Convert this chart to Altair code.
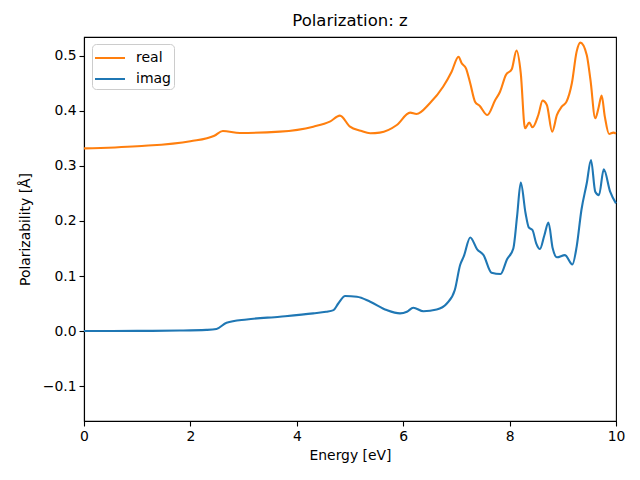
import altair as alt
import pandas as pd

real_x = [0, 1, 2, 2.45, 2.61, 2.93, 3.68, 4.31, 4.62, 4.81, 5.0, 5.2, 5.38, 5.56, 5.88,
          6.13, 6.25, 6.5, 6.75, 6.91, 7.04, 7.10, 7.18, 7.26, 7.35, 7.44, 7.58, 7.73, 7.82,
          7.93, 8.04, 8.13, 8.21, 8.29, 8.37, 8.43, 8.54, 8.62, 8.70, 8.80, 8.89, 8.98, 9.07,
          9.17, 9.26, 9.33, 9.45, 9.52, 9.61, 9.67, 9.73, 9.79, 9.87, 9.95, 10]
real_y = [0.332, 0.336, 0.345, 0.355, 0.3636, 0.360, 0.3624, 0.3715, 0.3806, 0.3915, 0.3715,
          0.364, 0.3594, 0.3606, 0.3745, 0.397, 0.3945, 0.414, 0.444, 0.4715, 0.4987, 0.4867,
          0.4776, 0.4503, 0.417, 0.409, 0.3927, 0.42, 0.435, 0.4655, 0.4758, 0.5097, 0.4685,
          0.3685, 0.3788, 0.3703, 0.3927, 0.4188, 0.411, 0.3624, 0.3927, 0.4079, 0.417, 0.4503,
          0.5079, 0.5242, 0.5018, 0.4564, 0.3867, 0.4049, 0.4279, 0.3897, 0.3582, 0.3606, 0.359]

imag_x = [0, 1, 1.8, 2.3, 2.49, 2.68, 3.06, 3.68, 4.31, 4.55, 4.69, 4.78, 4.91, 5.13, 5.38,
          5.69, 5.94, 6.07, 6.19, 6.38, 6.63, 6.82, 6.97, 7.07, 7.14, 7.26, 7.39, 7.51, 7.66,
          7.83, 7.95, 8.07, 8.14, 8.21, 8.30, 8.36, 8.43, 8.50, 8.57, 8.65, 8.73, 8.81, 8.89,
          9.04, 9.18, 9.26, 9.35, 9.45, 9.53, 9.61, 9.68, 9.77, 9.89, 10]
imag_y = [0.0, 0.0002, 0.0008, 0.002, 0.0036, 0.015, 0.021, 0.026, 0.032, 0.035, 0.038, 0.050,
          0.0636, 0.0624, 0.0533, 0.038, 0.032, 0.035, 0.0424, 0.036, 0.039, 0.050, 0.0745,
          0.12, 0.136, 0.170, 0.1485, 0.138, 0.106, 0.1036, 0.130, 0.150, 0.208, 0.2697, 0.214,
          0.1885, 0.1836, 0.1594, 0.149, 0.1727, 0.197, 0.1503, 0.134, 0.138, 0.121, 0.153,
          0.22, 0.2685, 0.311, 0.2533, 0.247, 0.294, 0.2533, 0.232]

series_names = ["real", "imag"]
series_colors = ["#ff7f0e", "#1f77b4"]
x_ticks = [0, 2, 4, 6, 8, 10]
y_ticks = [-0.1, 0.0, 0.1, 0.2, 0.3, 0.4, 0.5]

df = pd.concat([
    pd.DataFrame({"energy": real_x, "value": real_y, "series": "real", "order": 0}),
    pd.DataFrame({"energy": imag_x, "value": imag_y, "series": "imag", "order": 1}),
])

FONT = "DejaVu Sans"

chart = alt.Chart(df).mark_line(strokeWidth=2.1, interpolate="monotone").encode(
    x=alt.X("energy:Q", title="Energy [eV]",
            scale=alt.Scale(domain=[0, 10], nice=False, zero=False),
            axis=alt.Axis(values=x_ticks, format="d", labelFlush=False)),
    y=alt.Y("value:Q", title="Polarizability [Å]",
            scale=alt.Scale(domain=[-0.1636, 0.5345], nice=False, zero=False),
            axis=alt.Axis(values=y_ticks, format=".1f", labelFlush=False)),
    color=alt.Color("series:N", sort=series_names,
                    scale=alt.Scale(domain=series_names, range=series_colors),
                    legend=alt.Legend(title=None, orient="none", legendX=8, legendY=7,
                                      symbolType="M-1.5,0H1.5", symbolSize=400,
                                      symbolStrokeWidth=2, labelFontSize=14,
                                      labelFont=FONT, labelColor="black",
                                      strokeColor="#cccccc", fillColor="white",
                                      cornerRadius=4, padding=3, rowPadding=3,
                                      symbolOffset=4, labelOffset=15)),
    detail="series:N",
    order="order:Q",
).properties(
    width=532, height=384,
    title=alt.Title("Polarization: z", fontSize=16.5, font=FONT, fontWeight="normal",
                    color="black", offset=8),
    padding={"left": 76, "top": 29, "right": 16, "bottom": 51},
    autosize=alt.AutoSizeParams(type="none"),
).configure_view(
    stroke="black", strokeWidth=1.1
).configure_axis(
    grid=False, domainColor="black", domainWidth=1.1, tickColor="black", tickSize=5,
    tickWidth=1.1, labelColor="black", labelFont=FONT, labelFontSize=13.9, labelPadding=3,
    titleFont=FONT, titleFontSize=13.9, titleFontWeight="normal", titleColor="black",
).configure_axisX(titlePadding=6).configure_axisY(titlePadding=10)

chart.save("out.html", embed_options={"renderer": "svg", "actions": False})
